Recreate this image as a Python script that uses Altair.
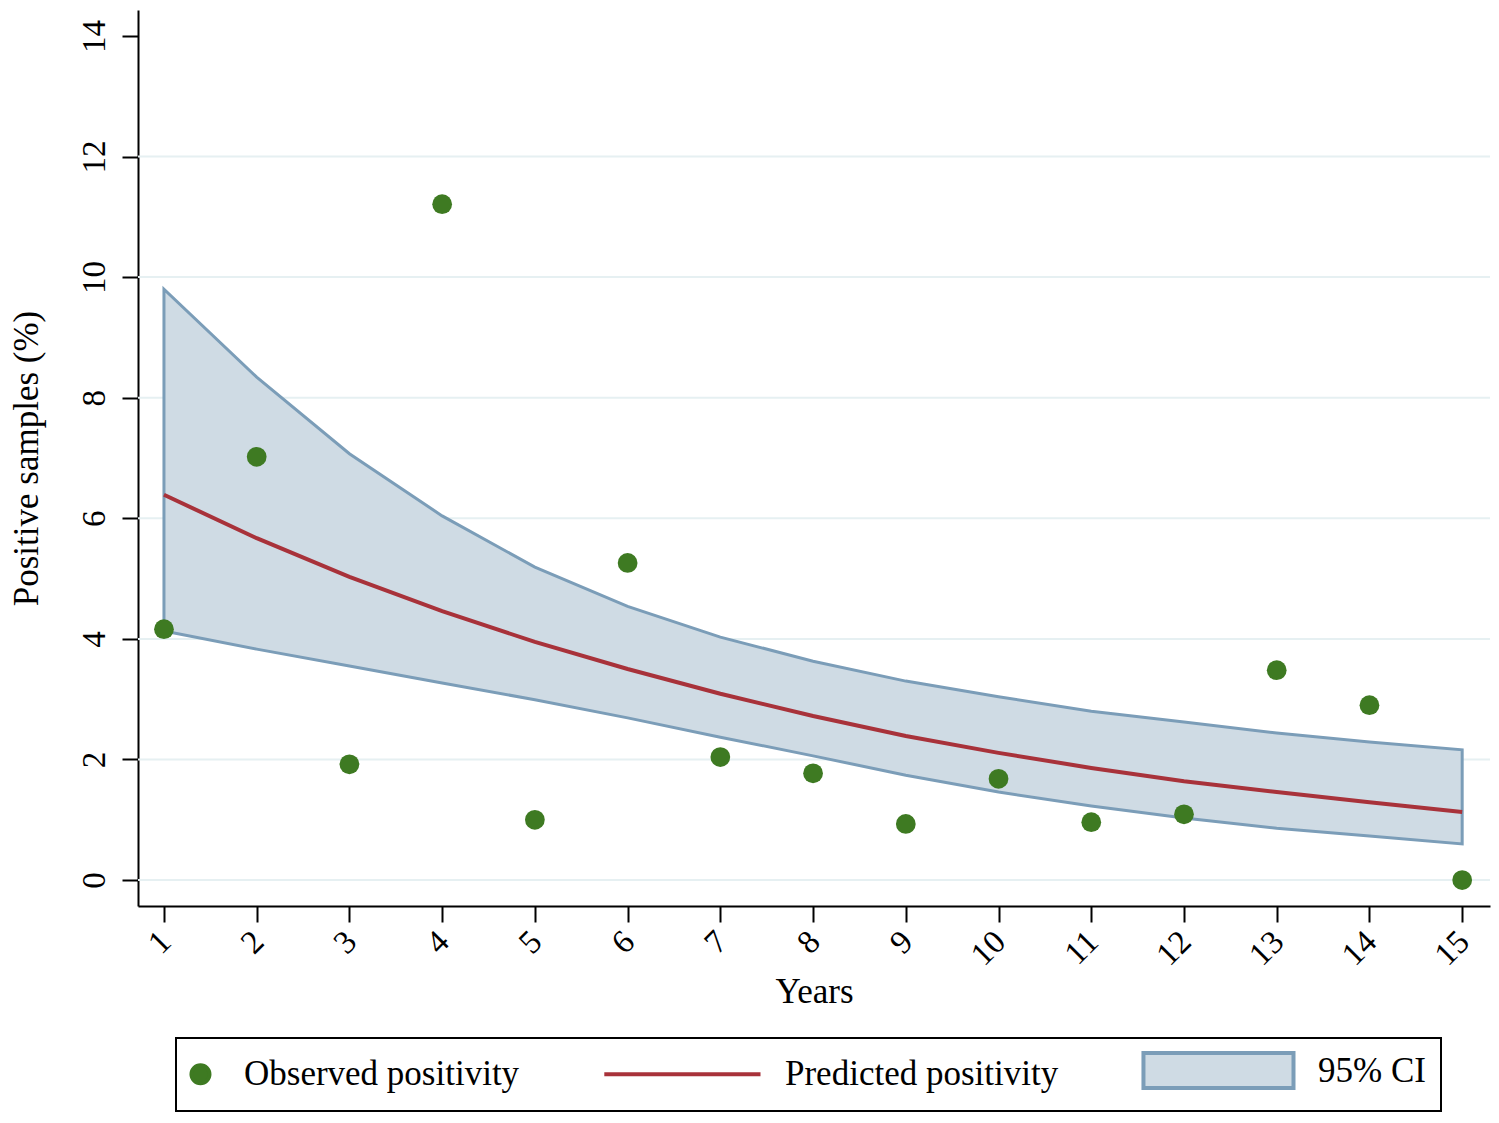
import altair as alt
import pandas as pd

years = list(range(1, 16))
observed = [4.16, 7.02, 1.92, 11.21, 1.00, 5.26, 2.04, 1.77, 0.93, 1.68, 0.96, 1.09, 3.48, 2.90, 0.00]
predicted = [6.39, 5.67, 5.03, 4.46, 3.95, 3.50, 3.09, 2.72, 2.39, 2.11, 1.86, 1.64, 1.46, 1.29, 1.13]
ci_upper = [9.80, 8.34, 7.07, 6.04, 5.19, 4.54, 4.03, 3.63, 3.30, 3.04, 2.80, 2.62, 2.44, 2.29, 2.16]
ci_lower = [4.13, 3.83, 3.55, 3.27, 2.99, 2.69, 2.37, 2.06, 1.74, 1.46, 1.23, 1.03, 0.86, 0.73, 0.60]
grid_values = [0, 2, 4, 6, 8, 10, 12]
y_ticks = [0, 2, 4, 6, 8, 10, 12, 14]
series_names = ["Observed positivity", "Predicted positivity", "95% CI"]

GREEN = "#3e7a22"
RED = "#a8323a"
BAND_FILL = "#cfdbe4"
BAND_EDGE = "#7b9db8"
GRID = "#e6f0f2"
FONT = "Liberation Serif"

df = pd.DataFrame({"year": years, "obs": observed, "pred": predicted,
                   "lo": ci_lower, "hi": ci_upper})
grid_df = pd.DataFrame({"g": grid_values})
leg_df = pd.DataFrame({"series": series_names})

xscale = alt.Scale(domain=[0.72, 15.3], nice=False, zero=False)
yscale = alt.Scale(domain=[-0.43, 14.43], nice=False, zero=False)

xaxis = alt.Axis(values=years, labelAngle=-45, title="Years", grid=False,
                 tickSize=16, tickWidth=2, tickColor="black",
                 domainWidth=2, domainColor="black", labelPadding=3,
                 labelOffset=-10,
                 labelFont=FONT, labelFontSize=33, labelColor="black",
                 titleFont=FONT, titleFontSize=35, titleFontWeight="normal",
                 titleColor="black", titleX=676, titleY=85,
                 titleBaseline="middle", titleAlign="center")
yaxis = alt.Axis(values=y_ticks, labelAngle=-90, title="Positive samples (%)",
                 grid=False, tickSize=16, tickWidth=2, tickColor="black",
                 domainWidth=2, domainColor="black", labelPadding=18,
                 labelBaseline="alphabetic", labelAlign="center",
                 labelFont=FONT, labelFontSize=33, labelColor="black",
                 titleFont=FONT, titleFontSize=35, titleFontWeight="normal",
                 titleColor="black", titleX=-112, titleY=448, titleAngle=270,
                 titleBaseline="middle", titleAlign="center")

grid = alt.Chart(grid_df).mark_rule(color=GRID, strokeWidth=2).encode(
    y=alt.Y("g:Q", scale=yscale, axis=yaxis)
)

band = alt.Chart(df).mark_area(fill=BAND_FILL, stroke=BAND_EDGE, strokeWidth=3,
                               opacity=1).encode(
    x=alt.X("year:Q", scale=xscale, axis=xaxis),
    y=alt.Y("lo:Q", scale=yscale, axis=yaxis),
    y2="hi:Q",
)

line = alt.Chart(df).mark_line(color=RED, strokeWidth=4).encode(
    x=alt.X("year:Q", scale=xscale, axis=xaxis),
    y=alt.Y("pred:Q", scale=yscale, axis=yaxis),
)

points = alt.Chart(df).mark_point(filled=True, color=GREEN, size=390, opacity=1).encode(
    x=alt.X("year:Q", scale=xscale, axis=xaxis),
    y=alt.Y("obs:Q", scale=yscale, axis=yaxis),
)

# legend-only layer: custom symbol paths (unit = 11px), right-aligned in the symbol box
circle_path = "M-1.55,0A0.82,0.82,0,1,1,0.09,0A0.82,0.82,0,1,1,-1.55,0Z"
line_path = "M-13.2,0H1"
rect_path = "M-12.64,-1.59H1V1.59H-12.64Z"

legend = alt.Legend(title=None, orient="none", legendX=38, legendY=1028,
                    direction="horizontal", columns=3, columnPadding=76,
                    symbolSize=484, symbolStrokeWidth=4, labelOffset=18,
                    labelLimit=500,
                    labelFont=FONT, labelFontSize=35, labelColor="black",
                    strokeColor="black", padding=15, symbolOpacity=1)

legend_layer = alt.Chart(leg_df).mark_point(filled=True, opacity=1).encode(
    fill=alt.Fill("series:N", scale=alt.Scale(domain=series_names,
                  range=[GREEN, "transparent", BAND_FILL]), legend=legend),
    stroke=alt.Stroke("series:N", scale=alt.Scale(domain=series_names,
                      range=[GREEN, RED, BAND_EDGE]), legend=legend),
    shape=alt.Shape("series:N", scale=alt.Scale(domain=series_names,
                    range=[circle_path, line_path, rect_path]), legend=legend),
).transform_filter("false")

chart = alt.layer(grid, band, line, points, legend_layer).properties(
    width=1352, height=896,
    autosize=alt.AutoSizeParams(type="none"),
    padding={"left": 130, "top": 2, "right": 1, "bottom": 209},
).configure_view(stroke=None).configure_legend(strokeWidth=2)

chart.save("out.html", embed_options={"renderer": "svg", "actions": False})
